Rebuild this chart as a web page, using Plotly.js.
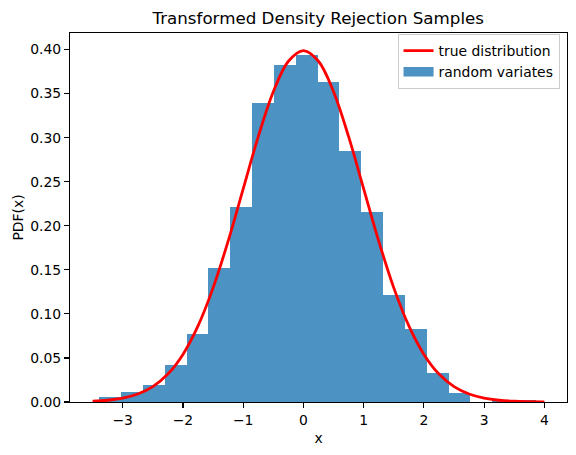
<!DOCTYPE html>
<html>
<head>
<meta charset="utf-8">
<script src="https://cdn.plot.ly/plotly-3.0.1.min.js"></script>
<style>
  html, body { margin: 0; padding: 0; background: #ffffff; }
  #chart { width: 576px; height: 455px; }
</style>
</head>
<body>
<div id="chart"></div>
<script>
// Histogram bin edges
const binEdges = [-3.39, -3.0275, -2.665, -2.3025, -1.94, -1.5775, -1.215, -0.8525, -0.49, -0.1275,
                  0.235, 0.5975, 0.96, 1.3225, 1.685, 2.0475, 2.41, 2.7725, 3.135, 3.4975, 3.86];
// Histogram densities
const binDensity = [0.0055, 0.011, 0.0193, 0.042, 0.0777, 0.1524, 0.2211, 0.339, 0.383, 0.394,
                    0.3637, 0.2845, 0.2154, 0.1215, 0.083, 0.033, 0.0097, 0.0, 0.0028, 0.0028];
// True distribution curve points
const curveX = [-3.5, -3.25, -3.0, -2.75, -2.5, -2.25, -2.0, -1.75, -1.5, -1.25, -1.0, -0.75, -0.5, -0.25,
                0.0, 0.25, 0.5, 0.75, 1.0, 1.25, 1.5, 1.75, 2.0, 2.25, 2.5, 2.75, 3.0, 3.25, 3.5, 3.75, 4.0];
const curveY = [0.0009, 0.0020, 0.0044, 0.0091, 0.0175, 0.0317, 0.0540, 0.0863, 0.1295, 0.1826, 0.2420, 0.3011, 0.3521, 0.3867,
                0.3989, 0.3867, 0.3521, 0.3011, 0.2420, 0.1826, 0.1295, 0.0863, 0.0540, 0.0317, 0.0175, 0.0091, 0.0044, 0.0020, 0.0009, 0.0004, 0.0001];
const xTicks = [-3, -2, -1, 0, 1, 2, 3, 4];
const yTicks = [0, 0.05, 0.10, 0.15, 0.20, 0.25, 0.30, 0.35, 0.40];

const centers = [], widths = [];
for (let i = 0; i < binDensity.length; i++) {
  centers.push((binEdges[i] + binEdges[i + 1]) / 2);
  widths.push(binEdges[i + 1] - binEdges[i]);
}

const FONT = '"DejaVu Sans", sans-serif';
const BAR_COLOR = 'rgba(31,119,180,0.8)';

const traces = [
  {
    type: 'bar',
    x: centers,
    y: binDensity,
    width: widths,
    name: 'random variates',
    marker: { color: BAR_COLOR, line: { width: 0 } },
    showlegend: false,
    hoverinfo: 'skip'
  },
  {
    type: 'scatter',
    mode: 'lines',
    x: curveX,
    y: curveY,
    name: 'true distribution',
    line: { color: '#ff0000', width: 2.8, shape: 'spline', smoothing: 1 },
    legendrank: 1,
    hoverinfo: 'skip'
  },
  {
    // legend entry for the histogram (wide patch like matplotlib)
    type: 'scatter',
    mode: 'lines',
    x: [null],
    y: [null],
    name: 'random variates',
    line: { color: BAR_COLOR, width: 9.5 },
    legendrank: 2,
    hoverinfo: 'skip'
  }
];

const axisCommon = {
  showline: true, linecolor: '#000000', linewidth: 1.1, mirror: true,
  ticks: 'outside', ticklen: 4.9, tickwidth: 1.1, tickcolor: '#000000',
  showgrid: false, zeroline: false,
  tickfont: { family: FONT, size: 13.9, color: '#000000' }
};

const layout = {
  width: 576, height: 455,
  margin: { l: 70, r: 9.3, t: 32.7, b: 52.7, pad: 0 },
  paper_bgcolor: '#ffffff', plot_bgcolor: '#ffffff',
  bargap: 0,
  font: { family: FONT, size: 13.9, color: '#000000' },
  title: {
    text: 'Transformed Density Rejection Samples',
    font: { family: FONT, size: 16.7, color: '#000000' },
    x: 0.5525, xanchor: 'center', y: 0.96, yanchor: 'middle'
  },
  xaxis: Object.assign({}, axisCommon, {
    range: [-3.875, 4.375],
    tickmode: 'array', tickvals: xTicks,
    ticktext: xTicks.map(v => (v < 0 ? '\u2212' + Math.abs(v) : String(v))),
    title: { text: 'x', font: { family: FONT, size: 13.9, color: '#000000' }, standoff: 6 }
  }),
  yaxis: Object.assign({}, axisCommon, {
    range: [0, 0.4188],
    tickmode: 'array', tickvals: yTicks,
    ticktext: yTicks.map(v => v.toFixed(2)),
    title: { text: 'PDF(x)', font: { family: FONT, size: 13.9, color: '#000000' }, standoff: 3 }
  }),
  showlegend: true,
  legend: {
    x: 0.985, xanchor: 'right', y: 0.997, yanchor: 'top',
    bgcolor: 'rgba(255,255,255,0.8)', bordercolor: '#cccccc', borderwidth: 1,
    font: { family: FONT, size: 13.9, color: '#000000' },
    traceorder: 'normal', itemwidth: 30, tracegroupgap: 0
  }
};

Plotly.newPlot('chart', traces, layout, { displayModeBar: false, staticPlot: true });
</script>
</body>
</html>
